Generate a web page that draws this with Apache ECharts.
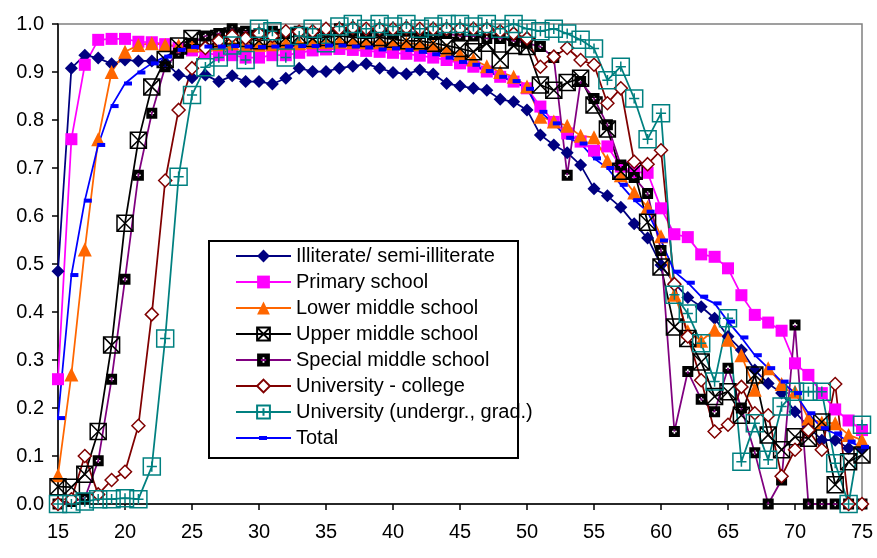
<!DOCTYPE html>
<html>
<head>
<meta charset="utf-8">
<script src="https://cdn.jsdelivr.net/npm/echarts@6/dist/echarts.min.js"></script>
<style>
html,body{margin:0;padding:0;background:#fff;}
#chart{width:877px;height:558px;}
</style>
</head>
<body>
<div id="chart"></div>
<script>
// ages 15..75
var ages = [];
for (var a = 15; a <= 75; a++) ages.push(a);

var seriesNames = ["Illiterate/ semi-illiterate","Primary school","Lower middle school","Upper middle school","Special middle school","University - college","University (undergr., grad.)","Total"];

var illiterate = [0.485,0.908,0.935,0.929,0.917,0.925,0.923,0.923,0.92,0.894,0.888,0.894,0.880,0.892,0.880,0.880,0.875,0.887,0.908,0.901,0.901,0.908,0.912,0.917,0.908,0.899,0.896,0.904,0.896,0.876,0.871,0.866,0.862,0.843,0.838,0.821,0.769,0.748,0.732,0.706,0.657,0.642,0.618,0.584,0.554,0.498,0.46,0.43,0.411,0.387,0.349,0.321,0.279,0.251,0.231,0.192,0.161,0.133,0.133,0.116,0.115];
var primary = [0.26,0.76,0.915,0.967,0.969,0.969,0.963,0.962,0.958,0.95,0.945,0.94,0.935,0.935,0.93,0.93,0.935,0.935,0.94,0.945,0.947,0.948,0.946,0.944,0.942,0.940,0.938,0.934,0.93,0.925,0.918,0.911,0.901,0.890,0.880,0.866,0.828,0.796,0.772,0.755,0.736,0.745,0.703,0.692,0.690,0.616,0.562,0.556,0.520,0.515,0.491,0.435,0.394,0.378,0.361,0.293,0.269,0.231,0.197,0.174,0.154];
var lowerMiddle = [0.06,0.27,0.53,0.76,0.90,0.942,0.956,0.96,0.956,0.955,0.955,0.957,0.958,0.96,0.958,0.957,0.958,0.96,0.96,0.962,0.962,0.963,0.962,0.962,0.962,0.96,0.96,0.958,0.955,0.946,0.937,0.926,0.912,0.9,0.89,0.87,0.807,0.797,0.788,0.767,0.764,0.715,0.685,0.649,0.619,0.558,0.436,0.36,0.34,0.363,0.342,0.31,0.238,0.283,0.25,0.234,0.178,0.17,0.168,0.144,0.133];
var upperMiddle = [0.036,0.035,0.062,0.151,0.331,0.585,0.758,0.869,0.926,0.954,0.97,0.965,0.97,0.975,0.97,0.965,0.97,0.972,0.975,0.97,0.972,0.975,0.972,0.97,0.972,0.968,0.965,0.965,0.96,0.955,0.949,0.942,0.96,0.925,0.955,0.953,0.873,0.862,0.878,0.887,0.831,0.781,0.693,0.693,0.587,0.494,0.369,0.345,0.296,0.224,0.234,0.185,0.269,0.144,0.113,0.14,0.137,0.171,0.04,0.088,0.102];
var specialMiddle = [0.0,0.005,0.012,0.09,0.26,0.468,0.685,0.814,0.911,0.939,0.96,0.975,0.98,0.99,0.985,0.98,0.985,0.98,0.985,0.98,0.985,0.99,0.985,0.98,0.985,0.98,0.985,0.98,0.978,0.98,0.975,0.975,0.97,0.97,0.965,0.96,0.953,0.93,0.685,0.88,0.845,0.79,0.706,0.68,0.647,0.528,0.151,0.276,0.218,0.192,0.283,0.2,0.107,0.0,0.05,0.373,0.0,0.0,0.0,0.0,0.0];
var univCollege = [0.0,0.01,0.1,0.02,0.05,0.067,0.163,0.395,0.674,0.821,0.908,0.95,0.965,0.975,0.97,0.98,0.975,0.985,0.984,0.985,0.99,0.99,0.992,0.99,0.99,0.99,0.992,0.99,0.99,0.99,0.99,0.99,0.99,0.985,0.98,0.97,0.911,0.932,0.95,0.925,0.915,0.835,0.866,0.713,0.708,0.737,0.458,0.349,0.258,0.151,0.165,0.244,0.189,0.185,0.058,0.113,0.154,0.113,0.25,0.0,0.0];
var university = [0.0,0.0,0.005,0.01,0.01,0.012,0.01,0.078,0.345,0.682,0.852,0.91,0.93,0.955,0.925,0.99,0.985,0.93,0.975,0.99,0.96,0.995,1.0,0.99,1.0,0.995,1.0,0.99,0.995,1.0,1.0,0.995,1.0,0.99,1.0,0.99,0.985,0.99,0.98,0.967,0.949,0.883,0.911,0.845,0.76,0.814,0.436,0.397,0.335,0.255,0.387,0.088,0.168,0.092,0.203,0.234,0.234,0.234,0.085,0.0,0.165];
var total = [0.179,0.477,0.632,0.748,0.829,0.876,0.899,0.918,0.932,0.946,0.952,0.953,0.953,0.954,0.953,0.952,0.953,0.953,0.954,0.954,0.955,0.955,0.953,0.951,0.947,0.949,0.946,0.942,0.937,0.93,0.921,0.915,0.902,0.89,0.881,0.865,0.817,0.793,0.763,0.751,0.72,0.70,0.665,0.633,0.609,0.549,0.484,0.461,0.432,0.418,0.38,0.347,0.31,0.283,0.255,0.231,0.189,0.158,0.147,0.13,0.119];

var xTicks = [15,20,25,30,35,40,45,50,55,60,65,70,75];
var yTicks = [0,0.1,0.2,0.3,0.4,0.5,0.6,0.7,0.8,0.9,1.0];

function pairs(vals){ return ages.map(function(a,i){ return [a, vals[i]]; }); }

var xSquare = 'path://M0,0H10V10H0Z M0,0L10,10 M10,0L0,10';
var plusSquare = 'path://M0,0H10V10H0Z M5,2V8 M2,5H8';
var filledPlus = 'path://M0,0H10V10H0Z M4.3,2.9L4.3,4.3L2.9,4.3L2.9,5.7L4.3,5.7L4.3,7.1L5.7,7.1L5.7,5.7L7.1,5.7L7.1,4.3L5.7,4.3L5.7,2.9Z';
var totalLegendIcon = 'path://M0,1.1H55V2.9H0Z M23,0H31V4H23Z';

var styles = [
  {data: illiterate, color:'#000080', symbol:'diamond', size:13, item:{color:'#000080'}},
  {data: primary, color:'#FF00FF', symbol:'rect', size:12, item:{color:'#FF00FF'}},
  {data: lowerMiddle, color:'#FF6600', symbol:'triangle', size:14, item:{color:'#FF6600'}},
  {data: upperMiddle, color:'#000000', symbol:xSquare, size:16, item:{color:'transparent', borderColor:'#000000', borderWidth:1.5}},
  {data: specialMiddle, color:'#800080', symbol:filledPlus, size:11, item:{color:'#000000'}},
  {data: univCollege, color:'#800000', symbol:'diamond', size:13, item:{color:'#ffffff', borderColor:'#800000', borderWidth:1.5}},
  {data: university, color:'#008080', symbol:plusSquare, size:17, item:{color:'transparent', borderColor:'#008080', borderWidth:1.5}},
  {data: total, color:'#0000FF', symbol:'rect', size:[8,4], item:{color:'#0000FF'}, offset:[3,0]}
];

var series = styles.map(function(s, i){
  return {
    name: seriesNames[i],
    type: 'line',
    data: pairs(s.data),
    symbol: s.symbol,
    symbolSize: s.size,
    symbolOffset: s.offset || [0,0],
    showAllSymbol: true,
    lineStyle: {color: s.color, width: 1.75},
    itemStyle: s.item,
    emphasis: {disabled: true},
    clip: false,
    z: 2
  };
});

var legendData = seriesNames.map(function(n, i){
  return i === 7 ? {name: n, icon: totalLegendIcon, itemStyle: {color: '#0000FF'}} : {name: n};
});

var chart = echarts.init(document.getElementById('chart'), null, {renderer:'canvas'});
chart.setOption({
  animation: false,
  backgroundColor: '#ffffff',
  textStyle: {fontFamily: 'Liberation Sans, Arial, sans-serif'},
  grid: {left: 58, right: 15, top: 24, bottom: 54, show: true, borderColor: '#808080', borderWidth: 1.5, backgroundColor: 'transparent'},
  xAxis: {
    type: 'value', min: 15, max: 75, interval: 5,
    axisLine: {show: true, lineStyle: {color: '#000', width: 1.5}},
    axisTick: {show: true, inside: false, length: 6, lineStyle: {color: '#000', width: 1.5}},
    axisLabel: {color: '#000', fontSize: 20, margin: 18, fontFamily: 'Liberation Sans, Arial, sans-serif',
      formatter: function(v){ return xTicks.indexOf(v) >= 0 ? String(v) : ''; }},
    splitLine: {show: false}
  },
  yAxis: {
    type: 'value', min: 0, max: 1, interval: 0.1,
    axisLine: {show: true, lineStyle: {color: '#000', width: 1.5}},
    axisTick: {show: true, inside: false, length: 6, lineStyle: {color: '#000', width: 1.5}},
    axisLabel: {color: '#000', fontSize: 20, margin: 14, fontFamily: 'Liberation Sans, Arial, sans-serif',
      formatter: function(v){ var t = yTicks.filter(function(y){return Math.abs(y-v)<1e-6;}); return t.length ? v.toFixed(1) : ''; }},
    splitLine: {show: false}
  },
  legend: {
    orient: 'vertical',
    left: 235, top: 246,
    itemWidth: 55, itemHeight: 16, itemGap: 6,
    padding: 0,
    textStyle: {color: '#000', fontSize: 20, lineHeight: 20, fontFamily: 'Liberation Sans, Arial, sans-serif'},
    data: legendData,
    selectedMode: false
  },
  graphic: [{
    type: 'rect', left: 208, top: 240, z: 100,
    shape: {width: 309, height: 217},
    style: {fill: 'transparent', stroke: '#000', lineWidth: 2}
  }],
  series: series
});
</script>
</body>
</html>
